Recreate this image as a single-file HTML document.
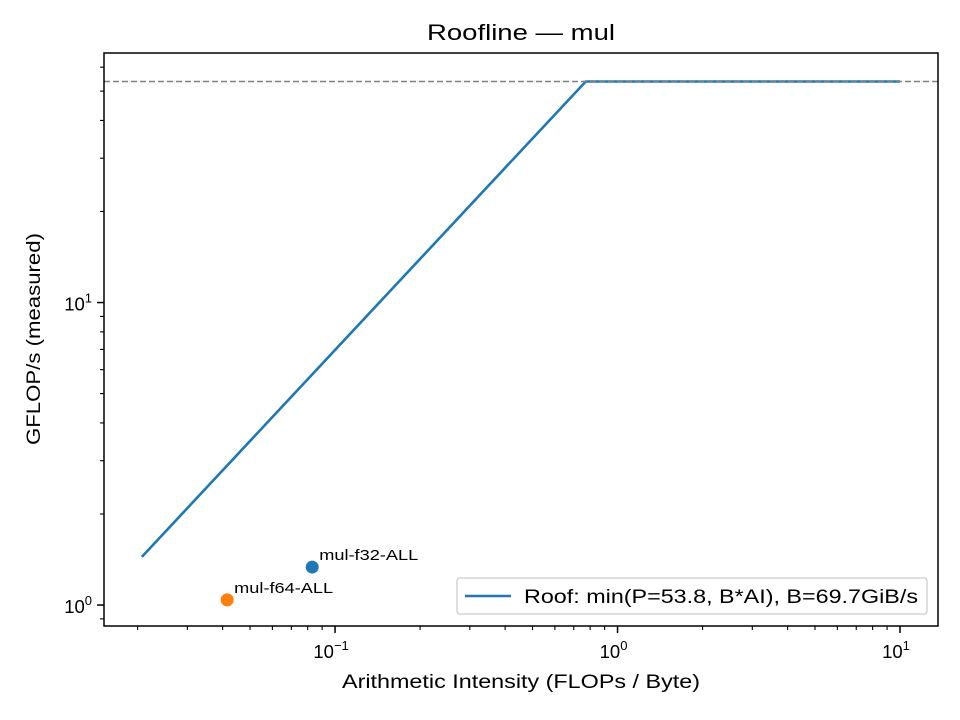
<!DOCTYPE html>
<html><head><meta charset="utf-8"><style>
body{margin:0;background:#fff}
svg{display:block;font-family:"Liberation Sans","DejaVu Sans",sans-serif}
</style></head><body>
<svg id="chart" width="960" height="720" viewBox="0 0 960 720">
<rect width="960" height="720" fill="#fff"/>
<g id="g"></g>
</svg>
<script>
const peak = [53.8];
const bandwidth = [69.7];
const roofRange = [0.0207, 10];
const pointLabels = ["mul-f32-ALL", "mul-f64-ALL"];
const pointAI = [0.083, 0.0415];
const pointPerf = [1.335, 1.04];
const pointColors = ["#1f77b4", "#ff7f0e"];
const xTickLabels = ["10", "10", "10"];
const xTickExps = [-1, 0, 1];
const yTickExps = [0, 1];

const L=104,R=938,T=53,B=626;
const xmin=-1.818,xmax=1.1345,ymin=-0.0693,ymax=1.825;
const sx=v=>L+(Math.log10(v)-xmin)/(xmax-xmin)*(R-L);
const sy=v=>B-(Math.log10(v)-ymin)/(ymax-ymin)*(B-T);
const NS="http://www.w3.org/2000/svg";
const g=document.getElementById('g');
function mk(t,a,txt){const e=document.createElementNS(NS,t);for(const k in a)e.setAttribute(k,a[k]);if(txt!=null)e.textContent=txt;g.appendChild(e);return e;}

const P=peak[0],Bw=bandwidth[0];
const ridge=P/Bw;
const a0=roofRange[0],a1=roofRange[1];
let e=mk('polyline',{points:`${sx(a0)},${sy(Bw*a0)} ${sx(ridge)},${sy(P)} ${sx(a1)},${sy(P)}`,fill:'none',stroke:'#1f77b4','stroke-width':2.6});


e=mk('line',{x1:L,x2:R,y1:sy(P),y2:sy(P),stroke:'#808080','stroke-width':1.6,'stroke-dasharray':'6,3'});



pointAI.forEach((a,i)=>{
  const c=mk('circle',{cx:sx(a),cy:sy(pointPerf[i]),r:6.5,fill:pointColors[i]});
  
  
  const t=mk('text',{x:sx(a)+7,y:sy(pointPerf[i])-7,'font-size':15,textLength:99,lengthAdjust:'spacingAndGlyphs',fill:'#000'},pointLabels[i]);
  
  
});

e=mk('rect',{x:L,y:T,width:R-L,height:B-T,fill:'none',stroke:'#000','stroke-width':1.5});



for(let d=-2;d<=1;d++){for(let m=1;m<10;m++){const v=m*Math.pow(10,d);const lv=Math.log10(v);if(lv<xmin||lv>xmax)continue;
  const x=sx(v);mk('line',{x1:x,x2:x,y1:B,y2:B+(m===1?7:4),stroke:'#000','stroke-width':m===1?1.5:1.1});}}
xTickExps.forEach((p,i)=>{const x=sx(Math.pow(10,p));
  const t=mk('text',{x:x-4,y:B+32,'font-size':18.5,'text-anchor':'middle'});
  
  
  t.innerHTML=`${xTickLabels[i]}<tspan dy="-8" font-size="13">${p<0?'\u2212':''}${Math.abs(p)}</tspan>`;});
for(let d=-1;d<=1;d++){for(let m=1;m<10;m++){const v=m*Math.pow(10,d);const lv=Math.log10(v);if(lv<ymin||lv>ymax)continue;
  const y=sy(v);mk('line',{x1:L,x2:L-(m===1?7:4),y1:y,y2:y,stroke:'#000','stroke-width':m===1?1.5:1.1});}}
yTickExps.forEach(p=>{const y=sy(Math.pow(10,p));
  const t=mk('text',{x:L-12,y:y+8,'font-size':18.5,'text-anchor':'end'});
  
  
  t.innerHTML=`10<tspan dy="-8" font-size="13">${p}</tspan>`;});

e=mk('text',{x:(L+R)/2,y:40,'font-size':22,'text-anchor':'middle',textLength:188,lengthAdjust:'spacingAndGlyphs'},'Roofline — mul');


e=mk('text',{x:(L+R)/2,y:688,'font-size':19,'text-anchor':'middle',textLength:358,lengthAdjust:'spacingAndGlyphs'},'Arithmetic Intensity (FLOPs / Byte)');


e=mk('text',{x:0,y:0,'font-size':19,'text-anchor':'middle',textLength:212,lengthAdjust:'spacingAndGlyphs',transform:`translate(40,339) rotate(-90)`},'GFLOP/s (measured)');



e=mk('rect',{x:457,y:578,width:470,height:36,rx:3,fill:'#fff','fill-opacity':0.8,stroke:'#ccc','stroke-width':1.3});


e=mk('line',{x1:465,x2:511,y1:596,y2:596,stroke:'#1f77b4','stroke-width':2.6});


e=mk('text',{x:524,y:603,'font-size':19,textLength:394,lengthAdjust:'spacingAndGlyphs'},`Roof: min(P=${P}, B*AI), B=${Bw}GiB/s`);


</script>
</body></html>
